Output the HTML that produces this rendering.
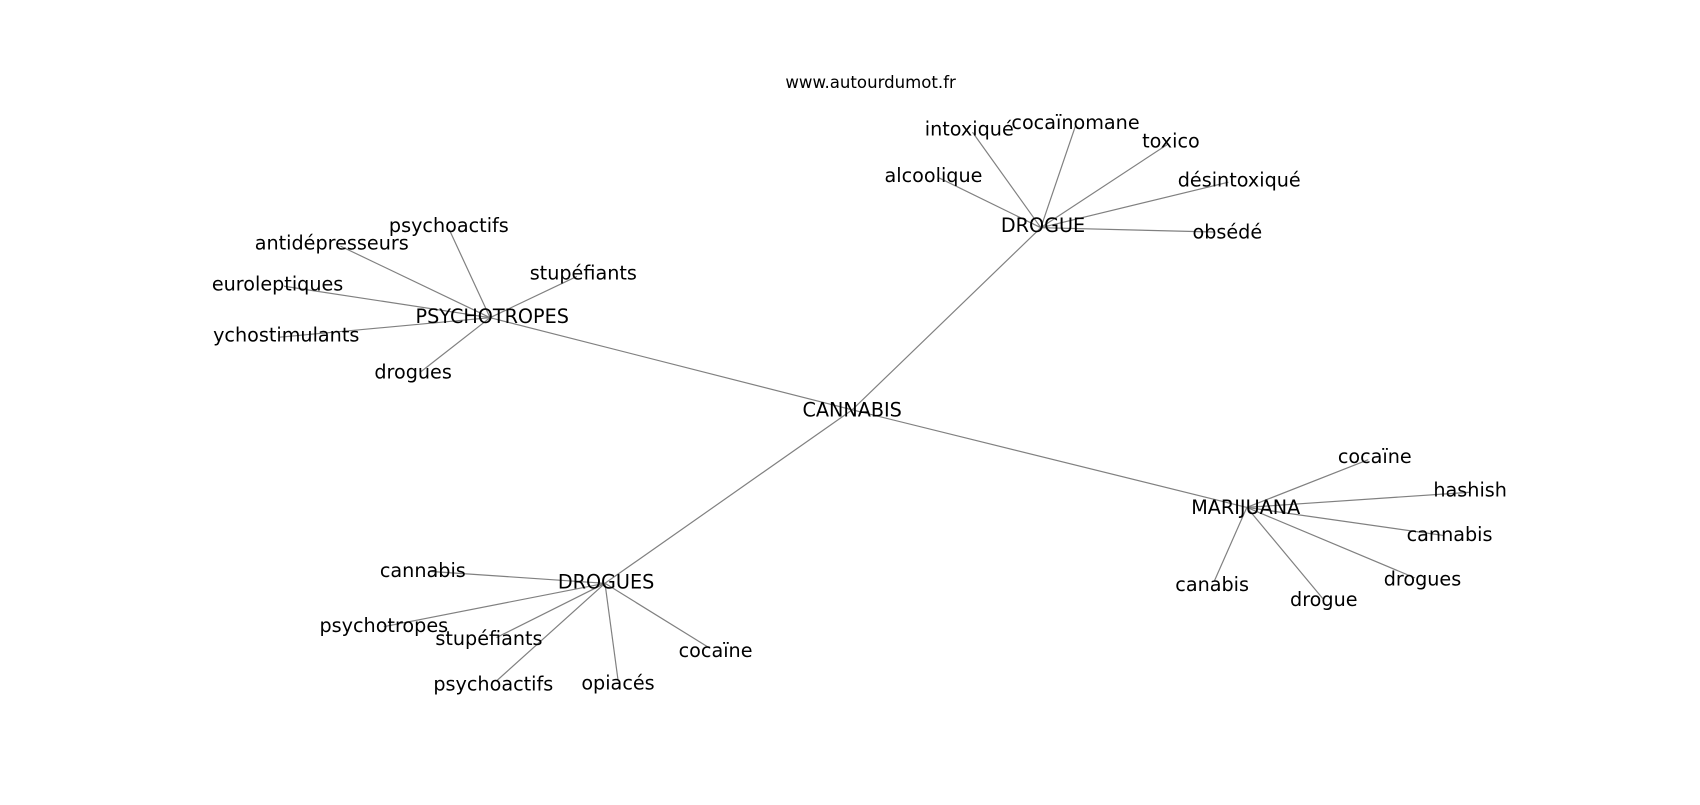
<!DOCTYPE html>
<html><head><meta charset="utf-8"><style>
html,body{margin:0;padding:0;background:#fff;}
svg text{font-family:"DejaVu Sans","Liberation Sans",sans-serif;font-size:17.7px;fill:#000;text-anchor:middle;dominant-baseline:central;}
</style></head><body>
<svg width="1700" height="800" viewBox="0 0 1700 800" xmlns="http://www.w3.org/2000/svg">
<g transform="scale(1.0842)">
<g stroke="#808080" stroke-width="1.1" fill="none">
<line x1="786" y1="378" x2="452" y2="293"/>
<line x1="786" y1="378" x2="960" y2="210"/>
<line x1="786" y1="378" x2="1150" y2="468"/>
<line x1="786" y1="378" x2="558" y2="538"/>
<line x1="960" y1="210" x2="897" y2="122"/>
<line x1="960" y1="210" x2="992" y2="116"/>
<line x1="960" y1="210" x2="1077" y2="133"/>
<line x1="960" y1="210" x2="1133" y2="168"/>
<line x1="960" y1="210" x2="1120" y2="214"/>
<line x1="960" y1="210" x2="866" y2="164"/>
<line x1="452" y1="293" x2="414" y2="211"/>
<line x1="452" y1="293" x2="314" y2="227"/>
<line x1="452" y1="293" x2="262" y2="264"/>
<line x1="452" y1="293" x2="258" y2="311"/>
<line x1="452" y1="293" x2="388" y2="343"/>
<line x1="452" y1="293" x2="532" y2="255"/>
<line x1="1150" y1="468" x2="1262" y2="424"/>
<line x1="1150" y1="468" x2="1356" y2="454"/>
<line x1="1150" y1="468" x2="1332" y2="494"/>
<line x1="1150" y1="468" x2="1305" y2="533"/>
<line x1="1150" y1="468" x2="1220" y2="552"/>
<line x1="1150" y1="468" x2="1120" y2="536"/>
<line x1="558" y1="538" x2="396" y2="527"/>
<line x1="558" y1="538" x2="354" y2="578"/>
<line x1="558" y1="538" x2="458" y2="588"/>
<line x1="558" y1="538" x2="458" y2="628"/>
<line x1="558" y1="538" x2="570" y2="627"/>
<line x1="558" y1="538" x2="655" y2="598"/>
</g>
<text x="803" y="76" style="font-size:15.3px">www.autourdumot.fr</text>
<text x="786" y="378">CANNABIS</text>
<text x="454" y="292">PSYCHOTROPES</text>
<text x="962" y="208">DROGUE</text>
<text x="1149" y="468">MARIJUANA</text>
<text x="559" y="537">DROGUES</text>
<text x="894" y="119">intoxiqué</text>
<text x="992" y="113">cocaïnomane</text>
<text x="1080" y="130">toxico</text>
<text x="1143" y="166">désintoxiqué</text>
<text x="1132" y="214">obsédé</text>
<text x="861" y="162">alcoolique</text>
<text x="414" y="208">psychoactifs</text>
<text x="306" y="224">antidépresseurs</text>
<text x="256" y="262">euroleptiques</text>
<text x="264" y="309">ychostimulants</text>
<text x="381" y="343">drogues</text>
<text x="538" y="252">stupéfiants</text>
<text x="1268" y="421">cocaïne</text>
<text x="1356" y="452">hashish</text>
<text x="1337" y="493">cannabis</text>
<text x="1312" y="534">drogues</text>
<text x="1221" y="553">drogue</text>
<text x="1118" y="539">canabis</text>
<text x="390" y="526">cannabis</text>
<text x="354" y="577">psychotropes</text>
<text x="451" y="589">stupéfiants</text>
<text x="455" y="631">psychoactifs</text>
<text x="570" y="630">opiacés</text>
<text x="660" y="600">cocaïne</text>
</g>
</svg>
</body></html>
